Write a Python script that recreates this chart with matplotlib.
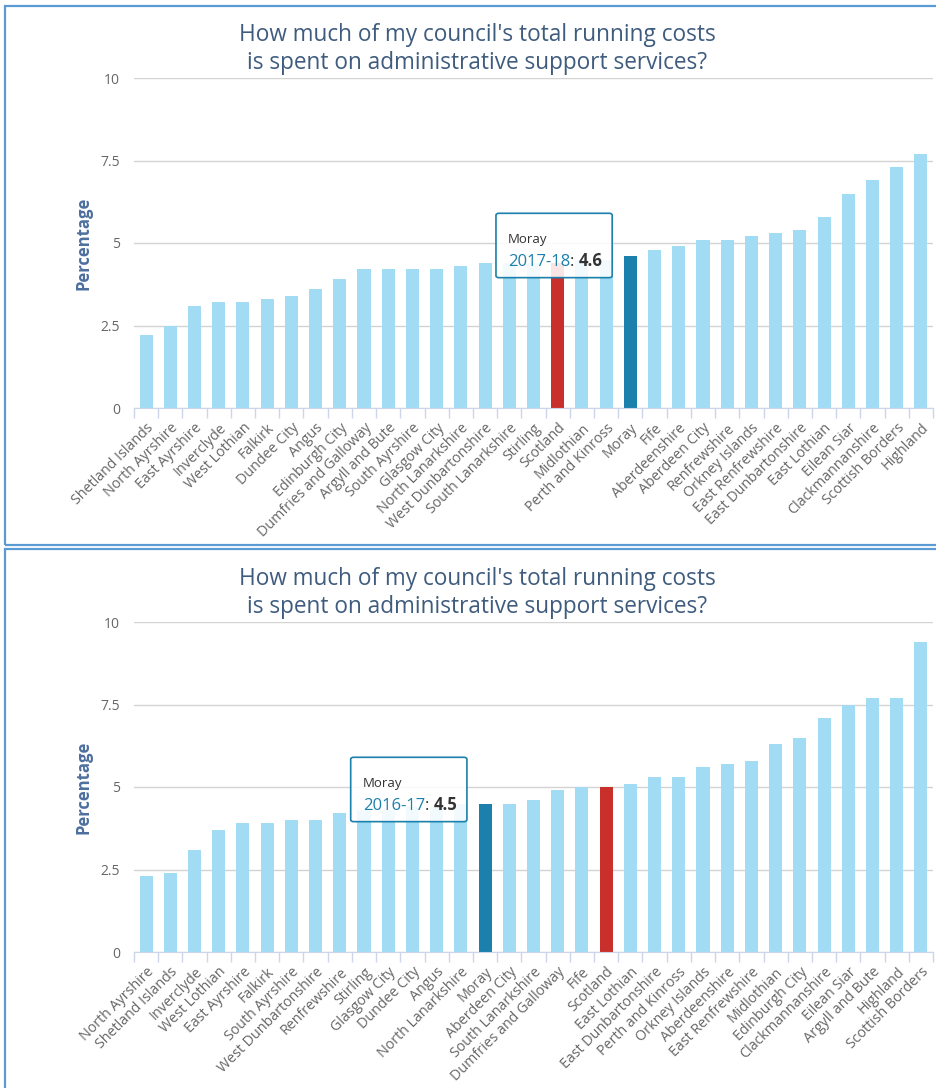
import numpy as np
import matplotlib
matplotlib.use('Agg')
import matplotlib.pyplot as plt
from matplotlib.patches import FancyBboxPatch, Rectangle

plt.rcParams['font.family'] = ['Open Sans', 'DejaVu Sans']

# 2017-18 panel
names_1718 = ['Shetland Islands', 'North Ayrshire', 'East Ayrshire', 'Inverclyde', 'West Lothian',
              'Falkirk', 'Dundee City', 'Angus', 'Edinburgh City', 'Dumfries and Galloway',
              'Argyll and Bute', 'South Ayrshire', 'Glasgow City', 'North Lanarkshire',
              'West Dunbartonshire', 'South Lanarkshire', 'Stirling', 'Scotland', 'Midlothian',
              'Perth and Kinross', 'Moray', 'Fife', 'Aberdeenshire', 'Aberdeen City', 'Renfrewshire',
              'Orkney Islands', 'East Renfrewshire', 'East Dunbartonshire', 'East Lothian',
              'Eilean Siar', 'Clackmannanshire', 'Scottish Borders', 'Highland']
vals_1718 = [2.2, 2.5, 3.1, 3.2, 3.2, 3.3, 3.4, 3.6, 3.9, 4.2, 4.2, 4.2, 4.2, 4.3, 4.4, 4.4, 4.4,
             4.4, 4.5, 4.5, 4.6, 4.8, 4.9, 5.1, 5.1, 5.2, 5.3, 5.4, 5.8, 6.5, 6.9, 7.3, 7.7]

# 2016-17 panel
names_1617 = ['North Ayrshire', 'Shetland Islands', 'Inverclyde', 'West Lothian', 'East Ayrshire',
              'Falkirk', 'South Ayrshire', 'West Dunbartonshire', 'Renfrewshire', 'Stirling',
              'Glasgow City', 'Dundee City', 'Angus', 'North Lanarkshire', 'Moray', 'Aberdeen City',
              'South Lanarkshire', 'Dumfries and Galloway', 'Fife', 'Scotland', 'East Lothian',
              'East Dunbartonshire', 'Perth and Kinross', 'Orkney Islands', 'Aberdeenshire',
              'East Renfrewshire', 'Midlothian', 'Edinburgh City', 'Clackmannanshire', 'Eilean Siar',
              'Argyll and Bute', 'Highland', 'Scottish Borders']
vals_1617 = [2.3, 2.4, 3.1, 3.7, 3.9, 3.9, 4.0, 4.0, 4.2, 4.3, 4.3, 4.4, 4.4, 4.5, 4.5, 4.5, 4.6,
             4.9, 5.0, 5.0, 5.1, 5.3, 5.3, 5.6, 5.7, 5.8, 6.3, 6.5, 7.1, 7.5, 7.7, 7.7, 9.4]

title = "How much of my council's total running costs\nis spent on administrative support services?"
yticks = [0, 2.5, 5, 7.5, 10]
ytick_labels = ['0', '2.5', '5', '7.5', '10']

LIGHT = '#a1dcf4'
MORAY = '#1b80ab'
SCOT = '#c9302c'
TITLE_C = '#3f5c7e'


def draw_panel(ax, names, vals, year):
    x = np.arange(len(names))
    colors = []
    for n in names:
        if n == 'Moray':
            colors.append(MORAY)
        elif n == 'Scotland':
            colors.append(SCOT)
        else:
            colors.append(LIGHT)
    ax.bar(x, vals, width=0.54, color=colors, zorder=2)
    ax.set_xlim(-0.5, len(names) - 0.5)
    ax.set_ylim(0, 10)
    ax.set_yticks(yticks)
    ax.set_yticklabels(ytick_labels, color='#666666', fontsize=10)
    ax.tick_params(axis='y', length=0, pad=10)
    ax.grid(axis='y', color='#d3d3d3', lw=1, zorder=0)
    ax.set_axisbelow(True)
    for s in ['top', 'right', 'left']:
        ax.spines[s].set_visible(False)
    ax.spines['bottom'].set_color('#ccd6eb')
    ax.spines['bottom'].set_zorder(3)

    ax.set_xticks(x)
    ax.set_xticklabels(names, rotation=45, ha='right', rotation_mode='anchor',
                       color='#666666', fontsize=10.3)
    ax.tick_params(axis='x', which='major', length=0, pad=9)
    ax.set_xticks(np.arange(len(names) + 1) - 0.5, minor=True)
    ax.tick_params(axis='x', which='minor', length=7, color='#ccd6eb', width=1)

    ax.set_ylabel('Percentage', color='#4d6f9e', fontsize=12, fontweight='bold', labelpad=6)

    # tooltip for Moray
    mi = names.index('Moray')
    mv = vals[mi]
    box = FancyBboxPatch((mi - 5.55, 3.95), 4.8, 1.95,
                         boxstyle='round,pad=0,rounding_size=0.12',
                         fc=(1, 1, 1, 0.88), ec=MORAY, lw=1.2, zorder=5,
                         mutation_aspect=0.5)
    ax.add_patch(box)
    ax.text(mi - 5.05, 5.0, 'Moray', fontsize=9.5, color='#333333', va='baseline', zorder=6)
    t1 = ax.text(mi - 5.05, 4.3, year, fontsize=12, color=MORAY, va='baseline', zorder=6)
    t2 = ax.annotate(': ', xy=(1, 0), xycoords=t1, fontsize=12, color='#333333',
                     va='bottom', zorder=6)
    ax.annotate('%.1f' % mv, xy=(1, 0), xycoords=t2, fontsize=12, color='#333333',
                fontweight='bold', va='bottom', zorder=6)


fig = plt.figure(figsize=(9.37, 10.88), dpi=100)
W, H = 937.0, 1088.0

# panel frames
fig.add_artist(Rectangle((5 / W, 1 - 545 / H), 1.0, (545 - 6) / H, transform=fig.transFigure,
                         fill=False, ec='#5b9bd5', lw=1.6))
fig.add_artist(Rectangle((5 / W, -0.05), 1.0, 0.05 + (1088 - 549) / H, transform=fig.transFigure,
                         fill=False, ec='#5b9bd5', lw=1.6))

ax1 = fig.add_axes([134 / W, 1 - 408 / H, (933 - 134) / W, 330 / H])
draw_panel(ax1, names_1718, vals_1718, '2017-18')
fig.text(477 / W, 1 - 49 / H, title, ha='center', va='center', fontsize=16.3, color=TITLE_C,
         linespacing=1.2)

ax2 = fig.add_axes([134 / W, 1 - 952 / H, (933 - 134) / W, 330 / H])
draw_panel(ax2, names_1617, vals_1617, '2016-17')
fig.text(477 / W, 1 - 593 / H, title, ha='center', va='center', fontsize=16.3, color=TITLE_C,
         linespacing=1.2)

fig.savefig('out.png', dpi=100)
